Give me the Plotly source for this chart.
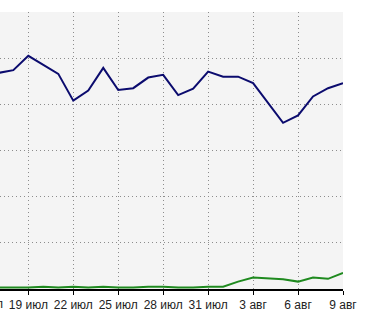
import plotly.graph_objects as go
import pandas as pd

dates = pd.date_range("2024-07-17", "2024-08-09", freq="D")

visits = [468, 474, 505, 485, 466, 408, 430, 479, 431, 435, 458, 464, 420, 434,
          471, 460, 460, 446, 403, 360, 376, 417, 435, 446]
other = [3, 3, 3, 5, 3, 5, 3, 5, 3, 3, 5, 5, 3, 3,
         5, 5, 16, 25, 23, 21, 16, 25, 22, 35]

tick_dates = ["2024-07-19", "2024-07-22", "2024-07-25", "2024-07-28",
              "2024-07-31", "2024-08-03", "2024-08-06", "2024-08-09"]
tick_labels = ["19 июл", "22 июл", "25 июл", "28 июл", "31 июл", "3 авг", "6 авг", "9 авг"]
cut_label = "16 июл"

fig = go.Figure()
fig.add_trace(go.Scatter(x=dates, y=other, mode="lines",
                         line=dict(color="#1f8a1f", width=2), showlegend=False))
fig.add_trace(go.Scatter(x=dates, y=visits, mode="lines",
                         line=dict(color="#0b0b6e", width=2), showlegend=False))

font = dict(family="Liberation Sans, Arial, sans-serif", size=12, color="#222222")
grid = dict(showgrid=True, gridcolor="#8c8c8c", griddash="1px,3px", gridwidth=1)

fig.update_layout(
    width=382, height=319,
    margin=dict(l=0, r=39, t=12, b=30),
    paper_bgcolor="white",
    plot_bgcolor="#f4f4f4",
    font=font,
    xaxis=dict(
        type="date",
        range=["2024-07-17 02:38", "2024-08-09 00:00"],
        tickvals=tick_dates, ticktext=tick_labels,
        showline=True, linecolor="black", linewidth=2,
        ticks="outside", ticklen=4, tickcolor="black", tickwidth=1,
        tickfont=font, zeroline=False, **grid,
    ),
    yaxis=dict(
        range=[0, 600], dtick=100,
        showticklabels=False,
        zeroline=False, showline=False, ticks="", **grid,
    ),
    annotations=[dict(text=cut_label, xref="paper", yref="paper",
                      x=-16.3 / 343.3, y=0, yshift=-15, xanchor="center",
                      yanchor="middle", showarrow=False, font=font)],
)

fig.write_html("out.html")
